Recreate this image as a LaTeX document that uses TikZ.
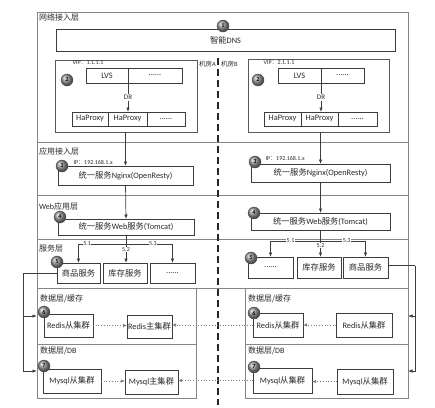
\documentclass[tikz,border=0pt]{standalone}
\usepackage{fontspec}
\setmainfont{Carlito}
\newfontfamily\cj{Noto Sans CJK SC}
\usetikzlibrary{arrows.meta,calc}
\definecolor{frame}{HTML}{858585}
\definecolor{edge}{HTML}{3C3C3C}
\definecolor{txt}{HTML}{2A2A2A}
\newcommand\mkbox[7][box]{\node[#1, minimum width={#5-#3}, minimum height={#6-#4}] (#2) at ({(#3+#5)/2},{(#4+#6)/2}) {#7};}
\begin{document}
\begin{tikzpicture}[x=1pt,y=-1pt,
  every node/.style={text=txt, outer sep=0pt},
  frm/.style={draw=frame, line width=0.8pt, inner sep=0pt},
  box/.style={draw=edge, line width=0.7pt, fill=white, inner sep=0pt, font=\fontsize{8.3}{9}\selectfont},
  vip/.style={draw=edge!85, line width=0.7pt, inner sep=0pt},
  lbl/.style={anchor=west, inner sep=0pt, font=\fontsize{8}{9}\selectfont},
  tiny/.style={inner sep=0.6pt, font=\fontsize{6}{6.5}\selectfont},
  room/.style={inner sep=0pt, font=\fontsize{6.5}{7}\selectfont},
  ball/.style={circle, draw=black!70, line width=0.4pt, shading=ball, ball color=gray!80, minimum size=12pt, inner sep=0pt, font=\fontsize{6}{6}\selectfont\bfseries, text=black},
  wire/.style={draw=edge, line width=0.7pt},
  arr/.style={wire, -{Latex[length=4.5pt,width=3.5pt]}},
  dots/.style={draw=gray, line width=0.7pt, dotted, -{Latex[length=4pt,width=3.5pt]}},
  splitline/.style={dash pattern=on 7pt off 4pt, line width=1.3pt, draw=black!85}
]
\useasboundingbox (0,0) rectangle (435,407);

% ---------- frames ----------
\mkbox[frm]{outer}{37}{12}{408}{288}{}
\draw[frm] (37,142) -- (408,142);
\draw[frm] (37,195) -- (408,195);
\draw[frm] (37,239) -- (408,239);
\mkbox[frm]{cacheA}{37}{288}{196}{344}{}
\mkbox[frm]{dbA}{37}{344}{196}{398}{}
\mkbox[frm]{cacheB}{245}{288}{408}{344}{}
\mkbox[frm]{dbB}{245}{344}{408}{398}{}

% ---------- layer labels ----------
\node[lbl] (L1) at (39,17) {\cj 网络接入层};
\node[lbl] (L2) at (39,151) {\cj 应用接入层};
\node[lbl] (L3) at (39,206) {Web{\cj 应用层}};
\node[lbl] (L4) at (39,248) {\cj 服务层};
\node[lbl] (L5) at (40,299) {{\cj 数据层/缓存}};
\node[lbl] (L6) at (40,351) {{\cj 数据层/}DB};
\node[lbl] (L7) at (248,299) {{\cj 数据层/缓存}};
\node[lbl] (L8) at (248,351) {{\cj 数据层/}DB};

% ---------- center split ----------
\coordinate (dTop) at (218,58);
\coordinate (dBot) at (218,405);
\draw[splitline] (dTop) -- (dBot);
\node[room, anchor=east] (roomA) at (216,64) {{\cj 机房}A};
\node[room, anchor=west] (roomB) at (221,64) {{\cj 机房}B};

% ---------- network access ----------
\mkbox{dns}{56}{29}{395}{51}{{\cj 智能}DNS}

\mkbox[vip]{vipA}{55}{60}{197}{132}{}
\mkbox[vip]{vipB}{248}{59}{389}{132}{}
\node[tiny, anchor=west] (vipAl) at (72,63) {VIP{\cj ：}1.1.1.1};
\node[tiny, anchor=west] (vipBl) at (263,63) {VIP{\cj ：}2.1.1.1};

\mkbox{lvsA}{86}{68}{128}{83}{LVS}
\mkbox{lvsA2}{128}{68}{182}{83}{......}
\mkbox{lvsB}{278}{68}{321}{83}{LVS}
\mkbox{lvsB2}{321}{68}{364}{83}{......}

\mkbox{haA1}{72}{112}{108}{126}{HaProxy}
\mkbox{haA2}{108}{112}{147}{126}{HaProxy}
\mkbox{haA3}{147}{112}{185}{126}{......}
\mkbox{haB1}{264}{112}{301}{126}{HaProxy}
\mkbox{haB2}{301}{112}{338}{126}{HaProxy}
\mkbox{haB3}{338}{112}{377}{126}{......}

\draw[arr] (lvsA.south east) -- (haA2.north -| lvsA.south east)
  node[midway, fill=white, inner sep=1pt, font=\fontsize{7}{8}\selectfont] (drA) {DR};
\draw[arr] (lvsB.south east) -- (haB2.north -| lvsB.south east)
  node[midway, fill=white, inner sep=1pt, font=\fontsize{7}{8}\selectfont] (drB) {DR};

% ---------- application access ----------
\mkbox{ngA}{58}{166}{193}{185}{{\cj 统一服务}Nginx(OpenResty)}
\mkbox{ngB}{251}{164}{390}{182}{{\cj 统一服务}Nginx(OpenResty)}
\node[tiny, anchor=west] (ipA) at (73,162) {IP{\cj ：}192.168.1.x};
\node[tiny, anchor=west] (ipB) at (265,158) {IP{\cj ：}192.168.1.x};
\draw[arr] (vipA.south -| ngA.north) -- (ngA.north);
\draw[arr] (vipB.south -| ngB.north) -- (ngB.north);

% ---------- web layer ----------
\mkbox{wbA}{58}{219}{194}{235}{{\cj 统一服务}Web{\cj 服务}(Tomcat)}
\mkbox{wbB}{251}{213}{390}{230}{{\cj 统一服务}Web{\cj 服务}(Tomcat)}
\draw[arr] (ngA.south) -- (wbA.north);
\draw[arr] (ngB.south) -- (wbB.north);

% ---------- service layer ----------
\mkbox{s1A}{57}{263}{100}{283}{\cj 商品服务}
\mkbox{s2A}{103}{263}{147}{283}{\cj 库存服务}
\mkbox{s3A}{150}{263}{195}{283}{......}
\mkbox{s1B}{248}{257}{293}{278}{......}
\mkbox{s2B}{297}{257}{341}{278}{\cj 库存服务}
\mkbox{s3B}{343}{257}{388}{278}{\cj 商品服务}

\coordinate (jA) at ($(wbA.south)+(0,9)$);
\coordinate (jB) at ($(wbB.south)+(0,11)$);
\draw[wire] (wbA.south) -- (jA);
\draw[wire] (wbB.south) -- (jB);
\draw[arr] (jA) -| (s1A.north) node[pos=0.41, fill=white, tiny] {5.1};
\draw[arr] (jA) -- (jA |- s2A.north) node[pos=0.3, fill=white, tiny] {5.2};
\draw[arr] (jA) -| (s3A.north) node[pos=0.29, fill=white, tiny] {5.3};
\draw[arr] (jB) -| (s1B.north) node[pos=0.3, fill=white, tiny] {5.1};
\draw[arr] (jB) -- (jB |- s2B.north) node[pos=0.3, fill=white, tiny] {5.2};
\draw[arr] (jB) -| (s3B.north) node[pos=0.29, fill=white, tiny] {5.3};

% ---------- data layer ----------
\mkbox{rsA}{44}{314}{93}{337}{Redis{\cj 从集群}}
\mkbox{rmA}{127}{315}{172}{338}{Redis{\cj 主集群}}
\mkbox{rsB1}{253}{313}{303}{337}{Redis{\cj 从集群}}
\mkbox{rsB2}{336}{313}{392}{337}{Redis{\cj 从集群}}
\mkbox{msA}{43}{369}{101}{393}{Mysql{\cj 从集群}}
\mkbox{mmA}{125}{370}{178}{394}{Mysql{\cj 主集群}}
\mkbox{msB1}{253}{368}{312}{393}{Mysql{\cj 从集群}}
\mkbox{msB2}{337}{369}{393}{394}{Mysql{\cj 从集群}}

\draw[dots] (rsA.east) -- (rsA.east -| rmA.west);
\draw[dots] (rsB1.west) -- (rsB1.west -| rmA.east);
\draw[dots] (rsB2.west) -- (rsB2.west -| rsB1.east);
\draw[dots] (msA.east) -- (msA.east -| mmA.west);
\draw[dots] (msB1.west) -- (msB1.west -| mmA.east);
\draw[dots] (msB2.west) -- (msB2.west -| msB1.east);

% service -> data connectors
\coordinate (tA) at ($(s1A.west)+(-34,0)$);
\coordinate (tB) at ($(s3B.east)+(27,-2)$);
\draw[wire] (s1A.west) -- (tA);
\draw[arr] (tA) |- (cacheA.west);
\draw[arr] (tA) |- (dbA.west);
\draw[wire] ($(s3B.east)+(0,-2)$) -- (tB);
\draw[arr] (tB) |- (cacheB.east);
\draw[arr] (tB) |- (dbB.east);

% ---------- numbered balls ----------
\node[ball] (n1) at (223,26) {1};
\node[ball] (n2A) at (67,80) {2};
\node[ball] (n2B) at (258,80) {2};
\node[ball] (n3A) at (62,166) {3};
\node[ball] (n3B) at (255,162) {3};
\node[ball] (n4A) at (60,217) {4};
\node[ball] (n4B) at (254,213) {4};
\node[ball] (n5A) at (57,262) {5};
\node[ball] (n5B) at (251,258) {5};
\node[ball] (n6A) at (44,312) {6};
\node[ball] (n6B) at (254,313) {6};
\node[ball] (n7A) at (44,366) {7};
\node[ball] (n7B) at (254,367) {7};
\end{tikzpicture}
\end{document}
